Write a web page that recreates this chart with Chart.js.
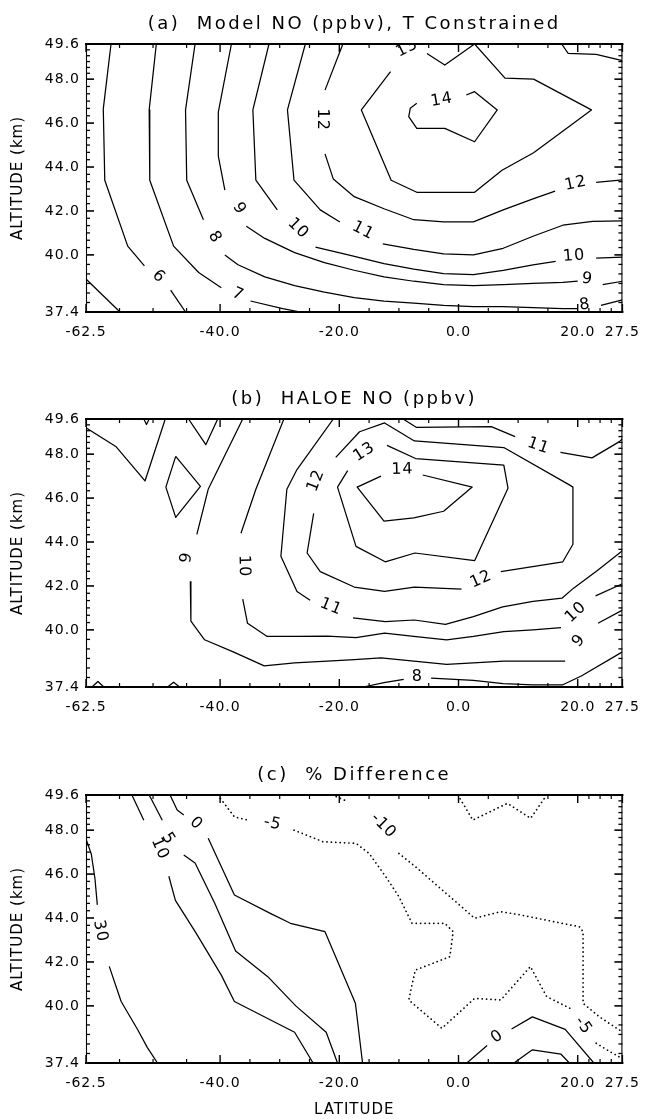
<!DOCTYPE html>
<html><head><meta charset="utf-8">
<script src="https://cdn.jsdelivr.net/npm/chart.js@4.4.1/dist/chart.umd.min.js"></script>
<style>
html,body{margin:0;padding:0;background:#fff;}
#wrap{position:relative;width:650px;height:1119px;overflow:hidden;background:#fff;}
canvas{position:absolute;left:0;}
</style></head><body>
<div id="wrap">
<canvas id="pa" width="650" height="370" style="top:0px"></canvas>
<canvas id="pb" width="650" height="370" style="top:375px"></canvas>
<canvas id="pc" width="650" height="368" style="top:751px"></canvas>
</div>
<script>
// ---------- axes ----------
const X_MIN = -62.5, X_MAX = 27.5, Y_MIN = 37.4, Y_MAX = 49.6;
const X_TICKS = [-62.5, -40, -20, 0, 20, 27.5];
const Y_TICKS = [37.4, 40, 42, 44, 46, 48, 49.6];
const X_MINOR_PER = 4, Y_MINOR_PER = 6;
const TITLES = ['(a)  Model NO (ppbv), T Constrained', '(b)  HALOE NO (ppbv)', '(c)  % Difference'];
const X_TITLE = 'LATITUDE', Y_TITLE = 'ALTITUDE (km)';

// ---------- panel (a): model NO contours  [lat, alt], ['label', lat, alt] = label gap ----------
const A_5  = [[-62.5,38.9],[-56.8,37.4]];
const A_6  = [[-58.3,49.6],[-59.6,46.65],[-59.35,43.4],[-55.5,40.4],[-52.7,39.5],['6',-50.3,39.0],[-48.3,38.4],[-45.8,37.4]];
const A_7  = [[-50.7,49.6],[-51.9,46.6],[-51.8,43.4],[-47.8,40.4],[-43.6,39.2],[-39.8,38.5],['7',-37.0,38.2],[-34.9,37.9],[-29.5,37.55],[-26.5,37.4]];
const A_8  = [[-44.2,49.6],[-45.8,46.6],[-45.6,43.4],[-42.8,41.6],['8',-40.9,40.8],[-39.2,40.0],[-37.0,39.55],[-32.5,39.0],[-27.5,38.6],[-22.5,38.3],[-17.5,38.05],[-12.5,37.9],[-7.5,37.8],[-2.5,37.7],[2.5,37.65],[7.5,37.65],[12.5,37.6],[17.5,37.55],[20.0,37.55],['8',21.2,37.72],[23.9,37.7],[27.5,37.95]];
const A_9  = [[-38.1,49.6],[-40.3,46.5],[-40.3,44.5],[-39.2,42.95],['9',-36.8,42.1],[-35.6,41.3],[-32.5,40.75],[-27.5,40.1],[-22.5,39.65],[-17.5,39.3],[-12.5,39.0],[-7.5,38.8],[-2.5,38.65],[2.5,38.6],[7.5,38.65],[12.5,38.7],[17.5,38.75],[20.0,38.8],['9',21.6,38.9],[24.2,38.65],[27.5,38.8]];
const A_10 = [[-31.8,49.6],[-34.5,46.6],[-34.0,43.4],[-30.4,42.05],['10',-26.9,41.2],[-24.0,40.35],[-18.5,40.0],[-12.5,39.6],[-7.5,39.35],[-2.5,39.15],[2.5,39.1],[7.5,39.3],[12.5,39.55],[16.3,39.7],['10',19.4,39.95],[23.1,39.85],[27.5,39.9]];
const A_11 = [[-25.7,49.6],[-28.7,46.6],[-27.6,43.4],[-23.2,42.05],[-19.9,41.5],['11',-16.0,41.1],[-12.7,40.5],[-7.5,40.25],[-2.5,40.05],[2.5,40.0],[7.5,40.3],[12.5,40.85],[17.5,41.35],[22.5,41.52],[27.5,41.55]];
const A_12 = [[-19.4,49.6],[-22.4,47.5],['12',-22.8,46.15],[-22.4,44.6],[-21.0,43.45],[-17.5,42.65],[-12.5,42.1],[-7.5,41.6],[-2.5,41.5],[2.5,41.5],[7.5,42.05],[12.5,42.55],[16.2,42.9],['12',19.7,43.25],[23.1,43.3],[27.5,43.42]];
const A_12T = [[17.3,49.6],[18.4,49.17],[23.1,49.13],[27.5,48.84]];
const A_13 = [[2.7,49.6],[-2.3,48.64],[-5.3,49.17],['13',-8.6,49.4],[-11.4,48.34],[-16.3,46.6],[-11.3,43.4],[-7.0,42.85],[2.7,42.85],[7.3,43.85],[12.6,44.65],[22.3,46.6],[12.6,48.0],[7.8,48.05],[2.7,49.6]];
const A_14 = [[1.3,47.28],[2.7,47.43],[6.5,46.6],[2.7,45.15],[-2.3,45.76],[-7.0,45.76],[-8.35,46.29],[-8.1,46.67],[-7.0,46.9],['14',-2.8,47.05]];

// ---------- panel (b): HALOE NO ----------
const B_A  = [[-62.5,49.2],[-57.5,48.35],[-52.6,46.78],[-49.2,49.6]];
const B_B  = [[-52.8,49.6],[-52.35,49.35],[-51.9,49.6]];
const B_C  = [[-45.3,49.6],[-42.4,48.43],[-40.4,49.6]];
const B_D  = [[-47.45,47.9],[-43.3,46.53],[-47.45,45.12],[-49.1,46.5],[-47.45,47.9]];
const B_9  = [[-36.2,49.6],[-42.0,46.4],[-43.9,44.35],['9',-45.6,43.3],[-45.0,42.2],[-44.9,40.4],[-42.6,39.55],[-37.8,39.0],[-32.6,38.36],[-27.5,38.5],[-22.0,38.58],[-17.5,38.65],[-13.0,38.73],[-7.5,38.58],[-2.0,38.43],[2.5,38.5],[7.6,38.58],[12.5,38.58],[17.9,38.58],['9',20.2,39.5],[23.4,40.3],[27.5,40.9]];
const B_10 = [[-29.3,49.6],[-34.0,46.4],[-36.5,44.4],['10',-36.0,42.9],[-36.2,41.4],[-35.4,40.3],[-32.1,39.7],[-27.5,39.7],[-22.0,39.72],[-17.2,39.65],[-12.4,39.85],[-7.5,39.7],[-2.0,39.55],[2.5,39.7],[7.6,39.92],[12.5,40.0],[17.2,40.1],['10',19.7,40.8],[23.0,41.55],[27.5,42.1]];
const B_11 = [[-21.0,49.6],[-27.1,47.3],[-28.8,46.4],[-29.8,43.35],[-27.1,41.75],[-24.9,41.35],['11',-21.4,41.05],[-17.7,40.55],[-12.3,40.38],[-7.4,40.45],[-2.2,40.25],[2.5,40.6],[7.4,41.05],[12.5,41.3],[17.4,41.45],[19.3,41.9],[23.3,42.7],[27.5,43.6]];
const B_11T = [[-9.3,49.6],[-7.1,49.22],[5.5,49.25],[9.5,48.8],['11',13.4,48.37],[17.1,48.08],[22.4,47.83],[27.0,48.57],[27.5,48.7]];
const B_12 = [['12',-23.9,46.8],[-24.3,45.3],[-25.4,43.5],[-23.2,42.65],[-17.5,41.95],[-12.4,41.75],[-7.4,41.95],[0.5,41.85],['12',3.8,42.3],[7.1,42.65],[17.5,43.1],[19.2,43.9],[19.2,46.5],[18.6,46.6],[7.6,48.3],[-7.4,48.6],[-12.4,49.42],[-16.6,49.02],[-20.6,47.85]];
const B_13 = [['13',-15.8,48.1],[-12.0,48.4],[-7.2,47.8],[7.6,47.5],[8.3,46.45],[2.7,43.15],[-7.3,43.5],[-12.3,43.1],[-17.2,43.8],[-20.3,46.5],[-18.6,47.25]];
const B_14 = [['14',-9.4,47.3],[-6.0,47.05],[2.3,46.5],[-2.5,45.4],[-7.5,45.1],[-12.5,44.95],[-17.0,46.5],[-13.0,47.0]];
const B_8  = [[-16.0,37.4],[-12.5,37.6],[-9.2,37.75],['8',-6.9,37.87],[-4.6,37.8],[2.5,37.7],[7.5,37.55],[12.5,37.5],[17.5,37.5],[20.6,37.9],[27.5,39.0]];
const B_V1 = [[-61.5,37.4],[-60.5,37.65],[-59.5,37.4]];
const B_V2 = [[-48.8,37.4],[-47.8,37.62],[-46.8,37.4]];

// ---------- panel (c): % difference (negative = dotted) ----------
const C_30 = [[-62.5,47.6],[-61.6,46.9],[-61.0,45.8],[-60.6,44.6],['30',-60.1,43.4],[-58.6,41.8],[-56.6,40.2],[-53.8,38.9],[-52.2,38.1],[-50.5,37.4]];
const C_10 = [[-54.8,49.6],[-52.8,48.45],['10',-50.1,47.15],[-48.6,45.9],[-47.5,44.8],[-44.0,43.3],[-39.8,41.4],[-37.6,40.2],[-27.5,38.8],[-24.4,37.4]];
const C_5  = [[-51.9,49.6],[-49.7,48.45],['5',-48.7,47.6],[-46.1,46.87],[-44.2,46.5],[-40.9,44.67],[-37.4,42.5],[-32.0,41.33],[-27.3,40.0],[-22.2,38.8],[-20.3,37.4]];
const C_0  = [[-48.4,49.6],[-47.2,48.92],[-46.1,48.69],['0',-44.0,48.3],[-42.0,47.63],[-37.6,45.05],[-31.5,44.2],[-28.2,43.76],[-22.4,43.38],[-17.3,40.12],[-16.1,37.4]];
const C_M5 = [[-40.4,49.6],[-37.6,48.6],[-35.4,48.46],['-5',-31.2,48.3],[-27.6,48.0],[-22.7,47.47],[-17.2,47.4],[-15.0,46.94],[-12.2,45.88],[-10.0,44.97],[-7.8,43.76],[-2.3,43.76],[-0.9,43.38],[-1.45,42.24],[-7.25,41.63],[-8.35,40.27],[-2.8,38.98],[2.7,40.34],[7.1,40.27],[12.06,41.79],[14.8,40.42],[19.0,39.85],['-5',20.9,39.1],[23.1,38.3],[25.5,37.9],[27.5,37.6]];
const C_M10 = [[-21.2,49.6],[-18.8,49.33],['-10',-12.6,48.2],[-10.0,46.94],[-7.25,46.34],[0.48,44.52],[2.68,43.99],[7.1,44.29],[10.4,44.14],[20.3,43.6],[20.9,43.38],[20.9,40.12],[23.6,39.51],[27.0,38.9],[27.5,38.85]];
const C_M10T = [[-0.1,49.6],[2.4,48.46],[8.2,49.22],[12.1,48.54],[14.8,49.6]];
const C_0B = [[1.4,37.4],[4.8,38.2],['0',6.5,38.6],[8.9,38.95],[12.4,39.5],[17.9,38.93],[22.7,37.4]];
const C_5B = [[9.3,37.4],[12.4,38.0],[17.2,37.8],[18.6,37.4]];

const PANEL_A = [A_5,A_6,A_7,A_8,A_9,A_10,A_11,A_12,A_12T,A_13,A_14].map(p=>({pts:p}));
const PANEL_B = [B_A,B_B,B_C,B_D,B_9,B_10,B_11,B_11T,B_12,B_13,B_14,B_8,B_V1,B_V2].map(p=>({pts:p}));
const PANEL_C = [C_30,C_10,C_5,C_0,C_0B,C_5B].map(p=>({pts:p})).concat([C_M5,C_M10,C_M10T].map(p=>({pts:p,dotted:true})));

// ---------- rendering ----------
const FONT = "'DejaVu Sans', 'Liberation Sans', sans-serif";
Chart.defaults.font.family = FONT;
Chart.defaults.color = '#000';

function minorOf(majors, n){
  const out=[];
  for(let i=0;i<majors.length-1;i++){const a=majors[i], b=majors[i+1]; for(let k=1;k<n;k++) out.push(a+(b-a)*k/n);}
  return out;
}
const X_MINOR = minorOf(X_TICKS, X_MINOR_PER), Y_MINOR = minorOf(Y_TICKS, Y_MINOR_PER);

function build(contours){
  const datasets=[], labels=[];
  contours.forEach(c=>{
    const pts=c.pts, n=pts.length; let seg=[];
    const flush=()=>{
      if(seg.length>1) datasets.push({data:seg, showLine:true, pointRadius:0, pointHoverRadius:0,
        borderColor:'#000', borderWidth:c.dotted?1.7:1.25, borderDash:c.dotted?[0.1,4.3]:[],
        borderCapStyle:c.dotted?'round':'butt', borderJoinStyle:'round', tension:0, fill:false});
      seg=[];
    };
    pts.forEach((p,i)=>{
      if(typeof p[0]==='string'){
        flush();
        const prev=pts[(i-1+n)%n], next=pts[(i+1)%n];
        labels.push({t:p[0], x:p[1], y:p[2], ax:prev[0], ay:prev[1], bx:next[0], by:next[1]});
      } else seg.push({x:p[0], y:p[1]});
    });
    flush();
  });
  return {datasets, labels};
}

const decor = {
  id:'decor',
  beforeDraw(chart){
    const ctx=chart.ctx;
    ctx.letterSpacing='1px';
    const tb=chart.titleBlock;
    if(tb && !tb.__w){
      const d=tb.draw.bind(tb);
      tb.draw=function(a){const o=ctx.letterSpacing; ctx.letterSpacing='2.5px'; d(a); ctx.letterSpacing=o;};
      tb.__w=true;
    }
  },
  afterDatasetsDraw(chart, args, opts){
    const ctx=chart.ctx, xs=chart.scales.x, ys=chart.scales.y, ca=chart.chartArea;
    ctx.save();
    ctx.beginPath(); ctx.rect(ca.left, ca.top, ca.right-ca.left, ca.bottom-ca.top); ctx.clip();
    ctx.letterSpacing='1px';
    ctx.font='16px '+FONT; ctx.fillStyle='#000'; ctx.textAlign='center'; ctx.textBaseline='middle';
    (opts.labels||[]).forEach(L=>{
      const px=xs.getPixelForValue(L.x), py=ys.getPixelForValue(L.y);
      let a=Math.atan2(ys.getPixelForValue(L.by)-ys.getPixelForValue(L.ay), xs.getPixelForValue(L.bx)-xs.getPixelForValue(L.ax));
      if(a>Math.PI/2) a-=Math.PI; if(a<-Math.PI/2) a+=Math.PI;
      ctx.save(); ctx.translate(px,py); ctx.rotate(a); ctx.fillText(L.t,0,0); ctx.restore();
    });
    ctx.restore();
  },
  afterDraw(chart){
    const ctx=chart.ctx, xs=chart.scales.x, ys=chart.scales.y, ca=chart.chartArea;
    const L=ca.left, R=ca.right, T=ca.top, B=ca.bottom;
    ctx.save(); ctx.strokeStyle='#000'; ctx.lineCap='butt';
    const seg=(x1,y1,x2,y2,w)=>{ctx.lineWidth=w; ctx.beginPath(); ctx.moveTo(x1,y1); ctx.lineTo(x2,y2); ctx.stroke();};
    seg(L-1,T,R+1,T,2.2); seg(L-1,B,R+1,B,2.2);
    seg(L+0.5,T,L+0.5,B,1.1); seg(R-0.5,T,R-0.5,B,1.1);
    Y_TICKS.forEach(v=>{const y=ys.getPixelForValue(v); seg(L,y,L+8,y,1.6); seg(R,y,R-8,y,1.6);});
    Y_MINOR.forEach(v=>{const y=ys.getPixelForValue(v); seg(L,y,L+4,y,1.3); seg(R,y,R-4,y,1.3);});
    X_TICKS.forEach(v=>{const x=xs.getPixelForValue(v); seg(x,B,x,B-8,1.4); seg(x,T,x,T+8,1.4);});
    X_MINOR.forEach(v=>{const x=xs.getPixelForValue(v); seg(x,B,x,B-4,1.2); seg(x,T,x,T+4,1.2);});
    ctx.restore();
  }
};

function panel(id, title, contours, xAxisH, showXTitle){
  const {datasets, labels} = build(contours);
  return new Chart(document.getElementById(id), {
    type:'scatter',
    data:{datasets},
    options:{
      responsive:false, animation:false, devicePixelRatio:1, events:[],
      layout:{padding:{left:0,right:20,top:0,bottom:0}},
      plugins:{
        legend:{display:false}, tooltip:{enabled:false},
        title:{display:true, text:title, fullSize:false, color:'#000',
               font:{family:FONT,size:18,weight:'normal',lineHeight:1.2}, padding:{top:14,bottom:8.4}},
        decor:{labels}
      },
      scales:{
        x:{type:'linear', position:'bottom', min:X_MIN, max:X_MAX,
           afterBuildTicks:s=>{s.ticks=X_TICKS.map(v=>({value:v}));},
           afterFit:s=>{s.height=xAxisH;},
           grid:{display:false, drawTicks:false}, border:{display:false},
           ticks:{color:'#000', font:{family:FONT,size:14}, padding:12, maxRotation:0, minRotation:0, autoSkip:false, callback:v=>Number(v).toFixed(1)},
           title:{display:showXTitle, text:X_TITLE, color:'#000', font:{family:FONT,size:15}, padding:{top:0,bottom:0}}},
        y:{type:'linear', position:'left', min:Y_MIN, max:Y_MAX,
           afterBuildTicks:s=>{s.ticks=Y_TICKS.map(v=>({value:v}));},
           afterFit:s=>{s.width=86;},
           grid:{display:false, drawTicks:false}, border:{display:false},
           ticks:{color:'#000', font:{family:FONT,size:14}, padding:6, autoSkip:false, callback:v=>Number(v).toFixed(1)},
           title:{display:true, text:Y_TITLE, color:'#000', font:{family:FONT,size:15}, padding:{top:9,bottom:0}}}
      }
    },
    plugins:[decor]
  });
}

panel('pa', TITLES[0], PANEL_A, 58, false);
panel('pb', TITLES[1], PANEL_B, 58, false);
panel('pc', TITLES[2], PANEL_C, 56, true);
</script>
</body></html>
